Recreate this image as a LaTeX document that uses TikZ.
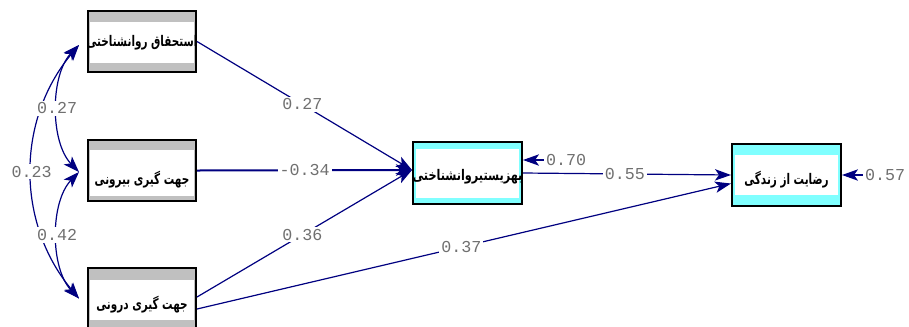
\documentclass[tikz,border=0pt]{standalone}
\usepackage{fontspec}
\setmainfont{DejaVu Sans}
\newfontfamily\arabicfont[Script=Arabic]{DejaVu Sans}
\newfontfamily\numfont{Liberation Mono}
\TeXXeTstate=1
\usetikzlibrary{arrows.meta,calc}
\definecolor{lnav}{RGB}{0,0,128}
\definecolor{numgray}{RGB}{112,112,112}
\definecolor{boxgray}{RGB}{192,192,192}
\definecolor{boxcyan}{RGB}{128,255,255}
\newcommand{\fatxt}[1]{\scalebox{0.71}[1]{\beginR #1\endR}}
\begin{document}
\begin{tikzpicture}[x=0.75pt,y=-0.75pt,
  boxbase/.style={draw=black,line width=1.5pt,inner sep=0pt},
  gbox/.style={boxbase,fill=boxgray,minimum width=81pt,minimum height=45.75pt},
  cbox/.style={boxbase,fill=boxcyan,minimum width=81.75pt,minimum height=46.5pt},
  band/.style n args={3}{path picture={\fill[white]
      ([xshift=#3,yshift=-#1]path picture bounding box.north west) rectangle
      ([xshift=-#3,yshift=#2]path picture bounding box.south east);}},
  boxtext/.style={inner sep=0pt,font=\arabicfont\bfseries\fontsize{11}{13}\selectfont},
  num/.style={fill=white,inner sep=1.5pt,text=numgray,font=\numfont\fontsize{12.5}{13}\selectfont},
  edge/.style={draw=lnav,line width=0.9pt,-{Stealth[length=12pt,width=8.5pt,inset=3pt]}},
  thickedge/.style={edge,line width=1.5pt},
  dedge/.style={draw=lnav,line width=0.9pt,{Stealth[length=12pt,width=8.5pt,inset=3pt]}-{Stealth[length=12pt,width=8.5pt,inset=3pt]}}
]
\useasboundingbox (0,0) rectangle (909,326);
\clip (0,0) rectangle (909,326);

% boxes
\node[gbox,band={8.25pt}{6.75pt}{1.2pt}] (b1) at (142,41.5) {};
\node[gbox,band={7.5pt}{3.75pt}{1.2pt}] (b2) at (142,170.5) {};
\node[gbox,band={9pt}{6.75pt}{1.2pt}] (b3) at (142,298.5) {};
\node[cbox,band={5.25pt}{4.5pt}{2.25pt}] (b4) at (467.5,172.5) {};
\node[cbox,band={8.25pt}{8.25pt}{2.25pt}] (b5) at (786.5,175) {};

\node[boxtext] (t1) at ($(b1.center)+(0,1.5)$) {\fatxt{استحقاق روانشناختی}};
\node[boxtext] (t2) at ($(b2.center)+(0,9.5)$) {\fatxt{جهت گیری بیرونی}};
\node[boxtext] (t3) at ($(b3.center)+(0,6.5)$) {\fatxt{جهت گیری درونی}};
\node[boxtext] (t4) at ($(b4.center)+(0,4.5)$) {\scalebox{1.08}[1]{\fatxt{بهزیستیروانشناختی}}};
\node[boxtext] (t5) at ($(b5.center)+(0,5)$) {\fatxt{رضایت از زندگی}};

% anchor points
\coordinate (b4in) at ($(b4.west)+(0,-2.5)$);
\coordinate (b3a) at ($(b3.east)+(0,-1.5)$);
\coordinate (b3b) at ($(b3.east)+(0,10.5)$);
\coordinate (b5a) at ($(b5.west)+(0,0)$);
\coordinate (b5b) at ($(b5.west)+(0,8.5)$);
\coordinate (b4out) at ($(b4.east)+(0,0.5)$);
\coordinate (c1) at ($(b1.west)+(-8,3.5)$);
\coordinate (c2) at ($(b2.west)+(-8,1.5)$);
\coordinate (c3) at ($(b3.west)+(-8,0)$);

% structural paths
\draw[edge] (b1.east) -- node[num,pos=0.49] (l1) {0.27} (b4in);
\draw[thickedge] (b2.east) -- node[num,pos=0.5] (l2) {-0.34} (b4in);
\draw[edge] (b3a) -- node[num,pos=0.49] (l3) {0.36} (b4in);
\draw[edge] (b3b) -- node[num,pos=0.495] (l4) {0.37} (b5b);
\draw[edge] (b4out) -- node[num,pos=0.49] (l5) {0.55} (b5a);

% error terms
\node[num] (e70) at (566,160) {0.70};
\draw[edge] (e70.west) -- (e70.west -| b4.east);
\node[num] (e57) at (885,175) {0.57};
\draw[edge] (e57.west) -- (b5.east);

% covariances
\draw[dedge] (c1) .. controls (16,120) and (16,223) .. node[num,pos=0.5] (l6) {0.23} (c3);
\draw[dedge] (c1) .. controls (50,75) and (50,142) .. node[num,pos=0.5] (l7) {0.27} (c2);
\draw[dedge] (c2) .. controls (50,202) and (50,268) .. node[num,pos=0.5] (l8) {0.42} (c3);
\end{tikzpicture}
\end{document}
